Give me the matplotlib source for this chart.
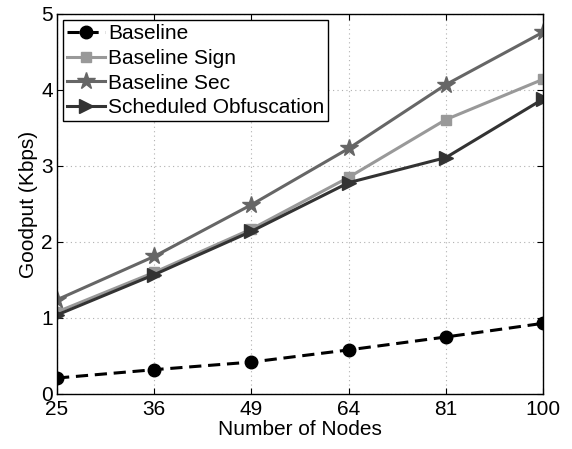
import matplotlib
matplotlib.use("Agg")
import matplotlib.pyplot as plt
import numpy as np

nodes = ["25", "36", "49", "64", "81", "100"]
baseline = [0.21, 0.32, 0.42, 0.58, 0.75, 0.93]
baseline_sign = [1.08, 1.60, 2.17, 2.85, 3.61, 4.14]
baseline_sec = [1.24, 1.81, 2.49, 3.23, 4.07, 4.76]
sched_obf = [1.04, 1.57, 2.14, 2.78, 3.11, 3.88]
yticks = [0, 1, 2, 3, 4, 5]

plt.rcParams['font.family'] = ['Liberation Sans', 'DejaVu Sans']

fig = plt.figure(figsize=(5.72, 4.49), dpi=100)
ax = fig.add_axes([0.0997, 0.1225, 0.8497, 0.8465])
x = np.arange(len(nodes))

ax.plot(x, baseline, color='black', ls='--', lw=2.2, marker='o', ms=9, label='Baseline', dashes=(4, 2.2))
ax.plot(x, baseline_sign, color='#999999', lw=2.2, marker='s', ms=7, label='Baseline Sign')
ax.plot(x, baseline_sec, color='#666666', lw=2.2, marker='*', ms=13, label='Baseline Sec')
ax.plot(x, sched_obf, color='#333333', lw=2.2, marker='>', ms=10, label='Scheduled Obfuscation')

ax.set_xlim(0, len(nodes) - 1)
ax.set_ylim(0, 5)
ax.set_xticks(x)
ax.set_xticklabels(nodes)
ax.set_yticks(yticks)
ax.tick_params(direction='in', top=True, right=True, labelsize=15, length=4, pad=3)
ax.tick_params(axis='x', pad=4)
ax.grid(True, color='#b0b0b0', ls=(0, (1, 3)), lw=0.8)
for s in ax.spines.values():
    s.set_linewidth(1.0)
ax.set_xlabel('Number of Nodes', fontsize=15, labelpad=1)
ax.set_ylabel('Goodput (Kbps)', fontsize=15, labelpad=2)

leg = ax.legend(loc='upper left', fontsize=15, fancybox=False, edgecolor='black',
                framealpha=1, borderpad=0.2, handlelength=1.8, handletextpad=0.15,
                labelspacing=0.27, borderaxespad=0.3)
leg.get_frame().set_linewidth(1.0)

fig.savefig('out.png', dpi=100)
